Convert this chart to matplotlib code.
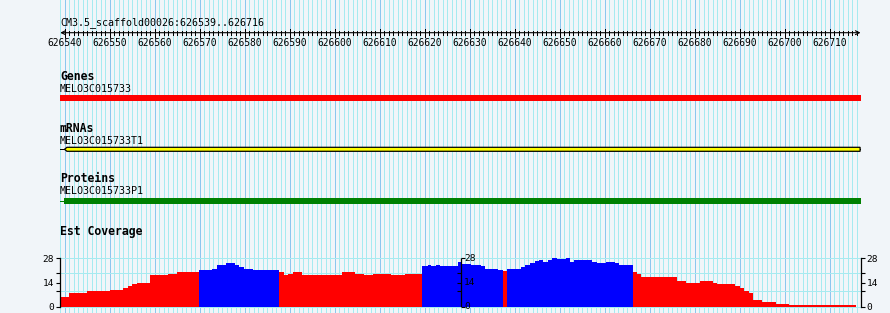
import matplotlib
matplotlib.use("Agg")
import matplotlib.pyplot as plt
from matplotlib.lines import TICKLEFT, TICKRIGHT
import numpy as np

# ----------------------------
# Data
# ----------------------------

VIEW_START = 626539
VIEW_END = 626717          # one past the last shown base (626716)
REGION_LABEL = "CM3.5_scaffold00026:626539..626716"

TRACK_TITLES = ["Genes", "mRNAs", "Proteins", "Est Coverage"]
GENE_NAME = "MELO3C015733"
MRNA_NAME = "MELO3C015733T1"
PROTEIN_NAME = "MELO3C015733P1"

GENE_SPAN = (626539.0, 626717.0)
MRNA_LINE = (626538.8, 626717.3)
MRNA_BODY = (626540.0, 626716.8)      # minus strand, arrow on the left end
PROTEIN_LINE = (626538.8, 626539.9)
PROTEIN_BODY = (626539.9, 626717.0)

# EST coverage: bin edges as bp offsets from VIEW_START, and bin heights
COV_EDGES = [0.0, 2.0, 6.0, 11.1, 14.0, 15.0, 16.0, 17.0, 20.0, 24.0, 26.0,
             30.8, 33.8, 34.8, 36.9, 38.9, 39.8, 40.9, 42.9,
             48.6, 49.7, 50.6, 51.7, 53.8, 62.6, 65.6, 67.6, 69.6, 73.6, 76.7,
             80.4, 81.7, 82.4, 83.5, 84.5, 88.5, 89.4, 91.4, 93.5, 94.4, 97.4,
             98.4,
             99.3, 102.4, 103.4, 104.4, 105.6, 106.4, 107.3, 108.4, 109.4,
             110.4, 112.4, 113.3, 114.3, 118.3, 119.3, 121.3, 123.3, 124.2,
             127.3, 128.2, 129.1, 137.1, 139.1, 142.2, 145.1, 146.0, 150.0,
             151.0, 152.0, 153.0, 154.0, 156.0, 159.0, 162.0, 176.9]
COV_VALUES = [5.6, 8.0, 9.3, 9.9, 11.1, 12.2, 13.4, 14.0, 18.1, 19.2, 20.2,
              21.4, 22.1, 24.3, 25.4, 24.3, 23.1, 21.9, 21.4,
              20.2, 18.1, 19.0, 20.2, 18.1, 20.2, 19.0, 18.1, 19.0, 18.1, 19.0,
              23.3, 24.3, 23.3, 24.1, 23.7, 25.6, 24.9, 24.3, 23.3, 22.1, 21.4,
              20.4,
              21.9, 22.9, 24.1, 25.2, 26.2, 27.2, 26.0, 27.2, 28.0, 27.4, 28.0,
              26.0, 27.2, 26.0, 25.4, 26.0, 25.2, 24.3,
              20.2, 19.0, 17.3, 15.0, 13.8, 15.0, 13.8, 13.2, 12.0, 10.9, 9.3,
              8.0, 3.9, 2.7, 1.6, 1.0]
# offsets (bp) where the coverage is drawn blue instead of red
BLUE_RANGES = [(30.8, 48.6), (80.4, 98.4), (99.3, 127.3)]

COV_MAX = 28
COV_TICKS = [0, 9.3, 14, 19.8, 28]
COV_TICK_LABELS = ["0", "", "14", "", "28"]
COV_GRID = [0, 9.3, 19.8, 28]
MID_AXIS_POS = 626628.0

# ----------------------------
# Layout / style
# ----------------------------

W, H = 890, 313
LEFT_PX, RIGHT_PX = 60, 861
COV_TOP_PX, COV_BOT_PX = 258.3, 306.8

BG = "#F1F5F9"
GRID_MINOR = "#A6EAF0"
GRID_MAJOR = "#8CC6EE"
MONO = "DejaVu Sans Mono"
PX = 72 / 100  # one pixel in points at dpi 100

fig = plt.figure(figsize=(W / 100, H / 100), dpi=100, facecolor=BG)

# main track axes: genomic x, pixel rows on y
ax = fig.add_axes([LEFT_PX / W, 0, (RIGHT_PX - LEFT_PX) / W, 1])
ax.set_xlim(VIEW_START, VIEW_END)
ax.set_ylim(H, 0)
ax.axis("off")

bases = np.arange(VIEW_START, VIEW_END + 1)
majors = bases[bases % 10 == 0]
minors = bases[bases % 10 != 0]
ax.vlines(minors, 0, H, color=GRID_MINOR, lw=PX, antialiased=False, zorder=0)
ax.vlines(majors, 0, H, color=GRID_MAJOR, lw=PX, antialiased=False, zorder=0)

# ruler
ax.text(VIEW_START, 25.3, REGION_LABEL, family=MONO, fontsize=7.2, va="baseline")
ruler_y = 32.7
ax.annotate("", xy=(VIEW_END - 0.1, ruler_y), xytext=(VIEW_START + 0.05, ruler_y),
            arrowprops=dict(arrowstyle="<->", lw=0.8, color="black",
                            shrinkA=0, shrinkB=0, mutation_scale=7))
tick_bases = bases[(bases > VIEW_START) & (bases < VIEW_END)]
ax.vlines(tick_bases, ruler_y - 2, ruler_y + 2, color="black", lw=PX, antialiased=False)
ax.vlines(majors, ruler_y - 4, ruler_y + 4, color="black", lw=PX, antialiased=False)
for m in majors:
    if m <= 626710:
        ax.text(m, 45.7, str(m), family=MONO, fontsize=6.9, ha="center", va="baseline")

# feature tracks
title_kw = dict(family=MONO, fontsize=8.3, fontweight="bold", va="baseline")
name_kw = dict(family=MONO, fontsize=7.2, va="baseline")

ax.text(VIEW_START, 80, TRACK_TITLES[0], **title_kw)
ax.text(VIEW_START, 92.3, GENE_NAME, **name_kw)
ax.fill_between(GENE_SPAN, 95, 101, color="#FF0000", lw=0)

ax.text(VIEW_START, 131.7, TRACK_TITLES[1], **title_kw)
ax.text(VIEW_START, 144, MRNA_NAME, **name_kw)
ax.hlines(149.3, *MRNA_LINE, color="black", lw=PX)
x0, x1 = MRNA_BODY
tip = 0.55
ax.fill([x0, x0 + tip, x1, x1, x0 + tip], [149.3, 147.3, 147.3, 151.3, 151.3],
        facecolor="#FFFF00", edgecolor="black", lw=0.9, zorder=3)

ax.text(VIEW_START, 182.3, TRACK_TITLES[2], **title_kw)
ax.text(VIEW_START, 194.3, PROTEIN_NAME, **name_kw)
ax.hlines(200.5, *PROTEIN_LINE, color="#008000", lw=PX)
ax.fill_between(PROTEIN_BODY, 197.7, 203.7, color="#008000", lw=0)

ax.text(VIEW_START, 235, TRACK_TITLES[3], **title_kw)

# coverage axes
cov = fig.add_axes([LEFT_PX / W, (H - COV_BOT_PX) / H,
                    (RIGHT_PX - LEFT_PX) / W, (COV_BOT_PX - COV_TOP_PX) / H])
cov.set_facecolor("none")
cov.set_xlim(VIEW_START, VIEW_END)
cov.set_ylim(0, COV_MAX)

cov.hlines(COV_GRID, VIEW_START, VIEW_END, color=GRID_MINOR, lw=PX,
           antialiased=False, zorder=0, clip_on=False)

edges = np.array(COV_EDGES)
lefts = VIEW_START + edges[:-1]
widths = np.diff(edges)
colors = []
for e in edges[:-1]:
    blue = any(a - 0.05 <= e < b - 0.05 for a, b in BLUE_RANGES)
    colors.append("#0000FF" if blue else "#FF0000")
cov.bar(lefts, COV_VALUES, width=widths, align="edge", color=colors,
        linewidth=0, antialiased=False, zorder=2)

for side in ("top", "bottom"):
    cov.spines[side].set_visible(False)
for side in ("left", "right"):
    cov.spines[side].set_linewidth(0.9)
cov.set_xticks([])
cov.set_yticks(COV_TICKS)
cov.set_yticklabels(COV_TICK_LABELS)
cov.tick_params(axis="y", left=True, right=True, labelleft=True, labelright=True,
                direction="out", length=2.6, width=0.8, pad=1.5, labelsize=6.8)
for lbl in cov.get_yticklabels() + cov.get_yticklabels(which="both"):
    lbl.set_family(MONO)

# middle scale
cov.vlines(MID_AXIS_POS, 0, COV_MAX, color="black", lw=0.9, zorder=4)
for t, lab in zip(COV_TICKS, COV_TICK_LABELS):
    mk = TICKRIGHT if t in (0, COV_MAX) else TICKLEFT
    cov.plot([MID_AXIS_POS], [t], marker=mk, color="black", markersize=2.6,
             markeredgewidth=0.8, zorder=4, clip_on=False)
    if lab:
        cov.annotate(lab, (MID_AXIS_POS, t), xytext=(2.6, 0), textcoords="offset points",
                     family=MONO, fontsize=6.8, va="center", ha="left", zorder=5)

fig.savefig("out.png", dpi=100, facecolor=BG)
